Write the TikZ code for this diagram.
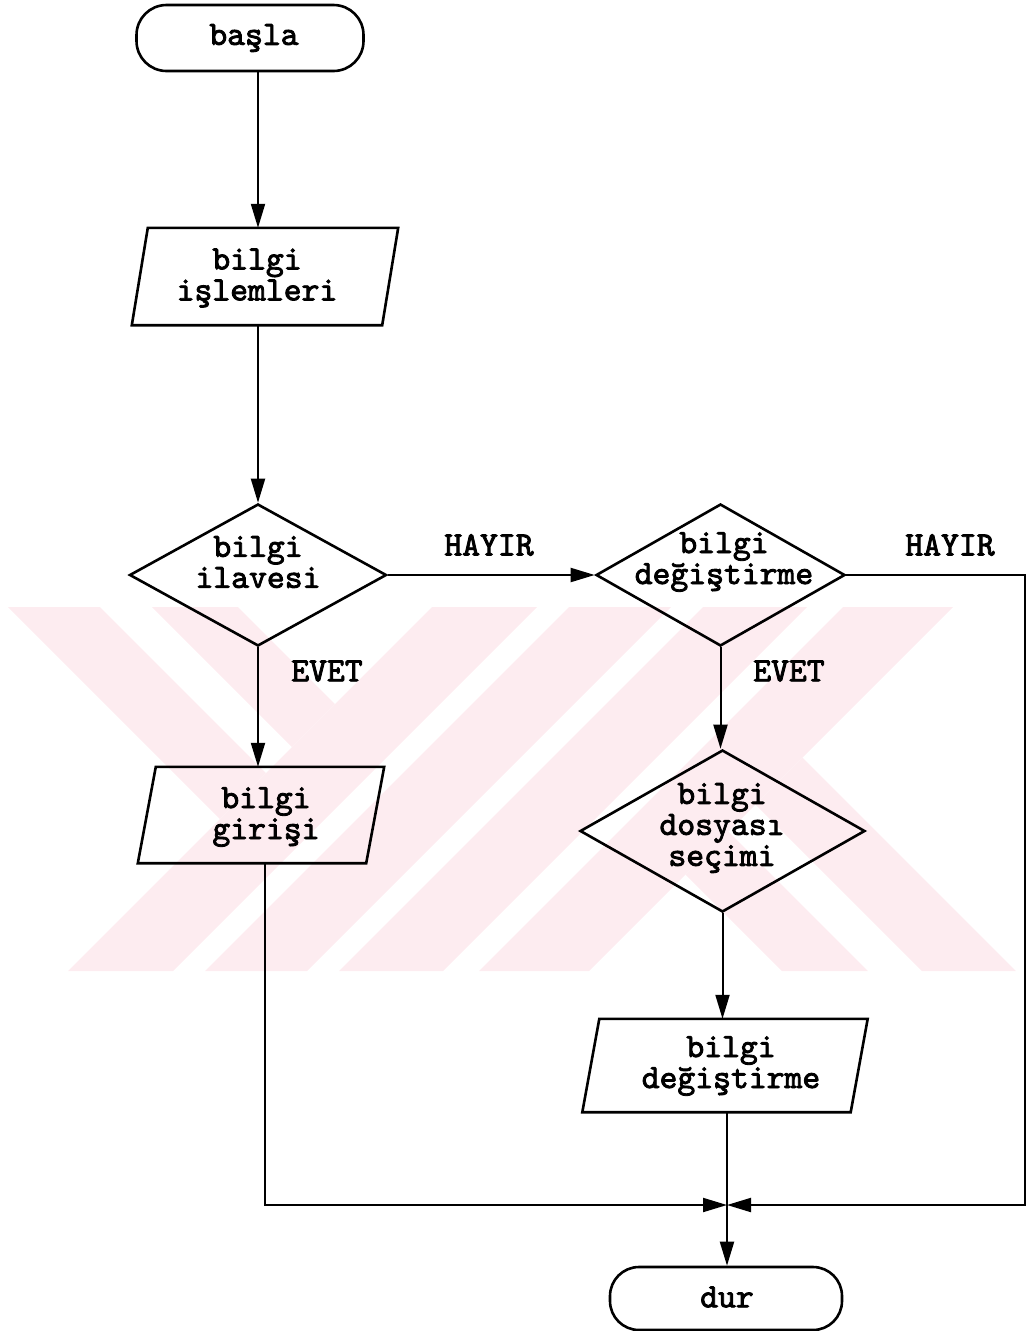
\documentclass[tikz,border=0pt]{standalone}
\usepackage{fontspec}
\newfontfamily\cour{lmmono10-regular.otf}[FakeBold=2.5]
\usetikzlibrary{shapes.geometric,arrows.meta,calc}
\definecolor{wm}{RGB}{253,236,240}
\begin{document}
\begin{tikzpicture}[x=1pt,y=-1pt,
  every node/.style={font=\cour\fontsize{34}{31}\selectfont},
  shp/.style={draw, line width=2.6pt, inner sep=0pt},
  box/.style={draw=none, inner sep=0pt},
  txt/.style={align=center, inner sep=0pt},
  conn/.style={line width=2pt},
  arr/.style={conn, -{Triangle[length=24pt,width=14pt]}},
  ]
\useasboundingbox (0,0) rectangle (1029,1331);
% watermark
\begin{scope}
\clip (0,607) rectangle (1029,971);
\fill[wm] (432,607) -- (537,607) -- (173,971) -- (68,971) -- cycle;
\fill[wm] (569,607) -- (671,607) -- (307,971) -- (205,971) -- cycle;
\fill[wm] (703,607) -- (807,607) -- (443,971) -- (339,971) -- cycle;
\fill[wm] (843,607) -- (953,607) -- (589,971) -- (479,971) -- cycle;
\fill[wm] (8,607) -- (100,607) -- (266,773) -- (220,819) -- cycle;
\fill[wm] (152,607) -- (238,607) -- (335,704) -- (292,747) -- cycle;
\fill[wm] (685.5,874.5) -- (728.5,831.5) -- (868,971) -- (782,971) -- cycle;
\fill[wm] (755.5,804.5) -- (802.5,757.5) -- (1016,971) -- (922,971) -- cycle;
\end{scope}
% shapes
\node[shp, rectangle, rounded corners=30pt, minimum width=227pt, minimum height=66pt] (start) at (250,38) {};
\node[txt] (tstart) at (254,38) {başla};

\node[box, minimum width=250pt, minimum height=97pt] (p1) at (265,276.5) {};
\draw[shp] ([xshift=8pt]p1.north west) -- ([xshift=8pt]p1.north east) -- ([xshift=-8pt]p1.south east) -- ([xshift=-8pt]p1.south west) -- cycle;
\node[txt] (tp1) at (257,278) {bilgi\\işlemleri};

\node[shp, diamond, minimum width=257pt, minimum height=142pt] (d1) at (258,575) {};
\node[txt] (td1) at (258,562) {bilgi\\ilavesi};

\node[shp, diamond, minimum width=249pt, minimum height=142pt] (d2) at (720.5,575) {};
\node[txt] (td2) at (724,562) {bilgi\\değiştirme};

\node[box, minimum width=228pt, minimum height=96pt] (p2) at (261,815) {};
\draw[shp] ([xshift=9pt]p2.north west) -- ([xshift=9pt]p2.north east) -- ([xshift=-9pt]p2.south east) -- ([xshift=-9pt]p2.south west) -- cycle;
\node[txt] (tp2) at (266,817) {bilgi\\girişi};

\node[shp, diamond, minimum width=285pt, minimum height=162pt] (d3) at (722.5,831) {};
\node[txt] (td3) at (722,828) {bilgi\\dosyası\\seçimi};

\node[box, minimum width=268pt, minimum height=93pt] (p3) at (725,1065.5) {};
\draw[shp] ([xshift=8.5pt]p3.north west) -- ([xshift=8.5pt]p3.north east) -- ([xshift=-8.5pt]p3.south east) -- ([xshift=-8.5pt]p3.south west) -- cycle;
\node[txt] (tp3) at (731,1066) {bilgi\\değiştirme};

\node[shp, rectangle, rounded corners=29pt, minimum width=232pt, minimum height=63pt] (end) at (726,1298.5) {};
\node[txt] (tend) at (727,1297) {dur};

% labels
\node[txt] (h1) at (489,545) {HAYIR};
\node[txt] (h2) at (950,545) {HAYIR};
\node[txt] (e1) at (327,671) {EVET};
\node[txt] (e2) at (789,671) {EVET};

% coordinates
\coordinate (J) at (727,1205);
\coordinate (R2) at (1025,1205);
\coordinate (L) at (265,1205);

% connectors
\draw[arr] (start.south -| d1.north) -- (p1.north -| d1.north);
\draw[arr] (p1.south -| d1.north) -- (d1.north);
\draw[arr] (d1.east) -- (d2.west);
\draw[arr] (d1.south) -- (d1.south |- p2.north);
\draw[arr] (p2.south -| L) -- (L) -- (J);
\draw[arr] (d2.east) -- (d2.east -| R2) -- (R2) -- (J);
\draw[arr] (d2.south) -- (d2.south |- d3.north);
\draw[arr] (d3.south) -- (d3.south |- p3.north);
\draw[arr] (p3.south -| J) -- (J |- end.north);
\end{tikzpicture}
\end{document}
